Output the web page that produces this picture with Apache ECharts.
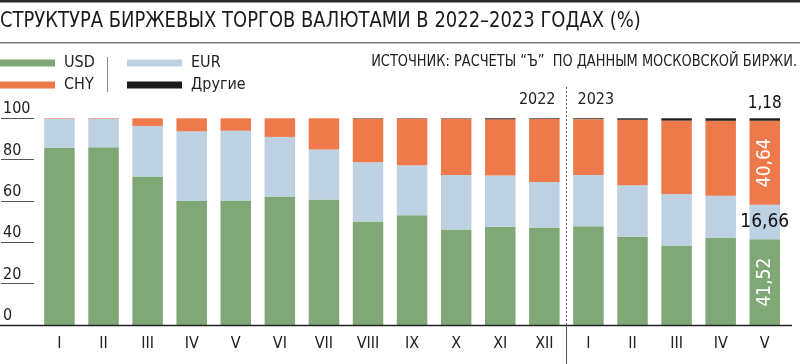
<!DOCTYPE html>
<html><head><meta charset="utf-8">
<script src="https://cdn.jsdelivr.net/npm/echarts@6/dist/echarts.min.js"></script>
<style>html,body{margin:0;padding:0;background:#fff}#c{width:800px;height:364px}</style>
</head><body><div id="c"></div>
<script>
const FONT = "'Liberation Sans Narrow','DejaVu Sans Condensed','Roboto',sans-serif";
const months2022 = ['I','II','III','IV','V','VI','VII','VIII','IX','X','XI','XII'];
const months2023 = ['I','II','III','IV','V'];
const tickLabels = months2022.concat(months2023);
const categories = months2022.map(m => m + '-2022').concat(months2023.map(m => m + '-2023'));
const yTicks = [0, 20, 40, 60, 80, 100];

const usd = [85.7, 86.0, 71.8, 60.0, 60.2, 62.2, 60.7, 50.1, 53.1, 46.2, 47.5, 47.2, 47.8, 42.7, 38.5, 42.2, 41.52];
const eur = [14.0, 13.7, 24.5, 33.7, 33.8, 28.8, 24.2, 28.6, 24.2, 26.4, 24.8, 22.0, 24.8, 24.9, 24.9, 20.3, 16.66];
const chy = [0.3, 0.3, 3.7, 6.3, 6.0, 9.0, 15.1, 21.1, 22.5, 27.2, 27.2, 30.5, 27.0, 31.7, 35.5, 36.3, 40.64];
const oth = [0, 0, 0, 0, 0, 0, 0, 0.2, 0.2, 0.2, 0.5, 0.3, 0.4, 0.7, 1.1, 1.2, 1.18];

const TITLE = 'СТРУКТУРА БИРЖЕВЫХ ТОРГОВ ВАЛЮТАМИ В 2022–2023 ГОДАХ (%)';
const SOURCE = 'ИСТОЧНИК: РАСЧЕТЫ “Ъ”  ПО ДАННЫМ МОСКОВСКОЙ БИРЖИ.';

const COLORS = {USD:'#80a877', EUR:'#bdd1e3', CHY:'#ee7a4b', OTH:'#1c1c1c'};
const fmt = v => String(v).replace('.', ',');
const last = categories.length - 1;

function withLabel(arr, label) {
  return arr.map((v, i) => i === last ? {value: v, label: Object.assign({show: true, formatter: p => fmt(p.value), fontFamily: FONT}, label)} : v);
}

const chart = echarts.init(document.getElementById('c'), null, {renderer: 'canvas'});
const option = {
  animation: false,
  legend: [
    {data: ['USD', 'CHY'], orient: 'vertical', left: 0, top: 54, padding: 0, itemGap: 4,
     itemWidth: 55, itemHeight: 7, icon: 'rect', selectedMode: false,
     textStyle: {fontFamily: FONT, fontSize: 16, color: '#222', lineHeight: 18, padding: [0, 0, 0, 4]}},
    {data: ['EUR', 'Другие'], orient: 'vertical', left: 127, top: 54, padding: 0, itemGap: 4,
     itemWidth: 55, itemHeight: 7, icon: 'rect', selectedMode: false,
     textStyle: {fontFamily: FONT, fontSize: 16, color: '#222', lineHeight: 18, padding: [0, 0, 0, 4]}}
  ],
  grid: {left: 36.4, right: 13.2, top: 118.3, bottom: 39, containLabel: false},
  xAxis: {
    type: 'category', data: categories,
    axisLine: {show: false}, axisTick: {show: false},
    axisLabel: {margin: 11, fontFamily: FONT, fontSize: 16, color: '#222',
      formatter: (v, i) => tickLabels[i]}
  },
  yAxis: {
    type: 'value', min: yTicks[0], max: yTicks[yTicks.length - 1], interval: 20, offset: 3.4,
    axisLine: {show: false},
    axisTick: {show: true, length: 33, lineStyle: {color: '#555', width: 1}},
    splitLine: {show: false},
    axisLabel: {align: 'left', verticalAlign: 'bottom', margin: 31, fontFamily: FONT, fontSize: 16, color: '#222', padding: [0, 0, 1, 0]}
  },
  series: [
    {name: 'USD', type: 'bar', stack: 's', barWidth: 30.5, itemStyle: {color: COLORS.USD},
     data: withLabel(usd, {position: 'inside', rotate: 90, color: '#fff', fontSize: 19})},
    {name: 'EUR', type: 'bar', stack: 's', barWidth: 30.5, itemStyle: {color: COLORS.EUR},
     data: withLabel(eur, {position: 'inside', color: '#111', fontSize: 19})},
    {name: 'CHY', type: 'bar', stack: 's', barWidth: 30.5, itemStyle: {color: COLORS.CHY},
     data: withLabel(chy, {position: 'inside', rotate: 90, color: '#fff', fontSize: 19})},
    {name: 'Другие', type: 'bar', stack: 's', barWidth: 30.5, itemStyle: {color: COLORS.OTH},
     data: withLabel(oth, {position: 'top', distance: 6, color: '#111', fontSize: 17})}
  ]
};
chart.setOption(option);

// decorations positioned via the axes
const y0 = chart.convertToPixel({yAxisIndex: 0}, 0);
const y100 = chart.convertToPixel({yAxisIndex: 0}, 100);
const xXII = chart.convertToPixel({xAxisIndex: 0}, 11);
const xI = chart.convertToPixel({xAxisIndex: 0}, 12);
const sepX = Math.round((xXII + xI) / 2) + 0.5;
chart.setOption({
  graphic: [
    {type: 'rect', shape: {x: 0, y: 0, width: 800, height: 2.5}, style: {fill: '#2a2a2a'}, silent: true},
    {type: 'text', x: 0, y: 21.5, scaleX: 0.95, style: {text: TITLE, align: 'left', verticalAlign: 'middle', font: '21px ' + FONT, fill: '#1a1a1a'}, silent: true},
    {type: 'rect', shape: {x: 0, y: 42, width: 800, height: 1.5}, style: {fill: '#7a7a7a'}, silent: true},
    {type: 'text', x: 797, y: 62, scaleX: 0.9, style: {text: SOURCE, align: 'right', verticalAlign: 'middle', font: '16px ' + FONT, fill: '#222'}, silent: true},
    {type: 'line', shape: {x1: 107.5, y1: 57, x2: 107.5, y2: 92}, style: {stroke: '#888', lineWidth: 1}, silent: true},
    {type: 'line', shape: {x1: 0, y1: y0 + 0.5, x2: 792, y2: y0 + 0.5}, style: {stroke: '#222', lineWidth: 1.5}, silent: true, z: 10},
    {type: 'line', shape: {x1: sepX, y1: 87, x2: sepX, y2: y0}, style: {stroke: '#555', lineWidth: 1, lineDash: [2, 2]}, silent: true, z: 10},
    {type: 'line', shape: {x1: sepX, y1: y0, x2: sepX, y2: 364}, style: {stroke: '#555', lineWidth: 1}, silent: true, z: 10},
    {type: 'text', x: sepX - 11, y: y100 - 18, style: {text: '2022', align: 'right', verticalAlign: 'middle', font: '16px ' + FONT, fill: '#222'}, silent: true},
    {type: 'text', x: sepX + 11, y: y100 - 18, style: {text: '2023', align: 'left', verticalAlign: 'middle', font: '16px ' + FONT, fill: '#222'}, silent: true}
  ]
});
</script></body></html>
